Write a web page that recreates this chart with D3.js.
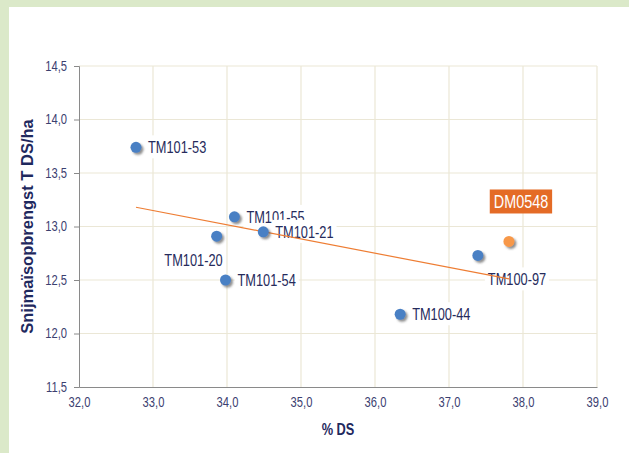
<!DOCTYPE html>
<html>
<head>
<meta charset="utf-8">
<script src="https://cdn.jsdelivr.net/npm/d3@7"></script>
<style>
  body { margin: 0; background: #fff; }
  svg { display: block; font-family: "Liberation Sans", Arial, sans-serif; }
</style>
</head>
<body>
<div id="vis"></div>
<script>
// data
const names = ["TM101-53", "TM101-55", "TM101-21", "TM101-20", "TM101-54", "TM100-44", "TM100-97", "DM0548"];
const dsPct = [32.77, 34.10, 34.49, 33.86, 33.98, 36.34, 37.39, 37.81];
const yieldT = [13.74, 13.09, 12.95, 12.91, 12.50, 12.18, 12.73, 12.86];
const highlight = "DM0548";

// trendline end points
const trendX = [32.77, 37.81];
const trendY = [13.18, 12.51];

const xTicks = [32, 33, 34, 35, 36, 37, 38, 39];
const yTicks = [11.5, 12.0, 12.5, 13.0, 13.5, 14.0, 14.5];

const FRAME_WIDTH = 629;
const FRAME_HEIGHT = 453;
const MARGINS = {left: 79, right: 32, top: 66, bottom: 66};
const VIS_WIDTH = FRAME_WIDTH - MARGINS.left - MARGINS.right;
const VIS_HEIGHT = FRAME_HEIGHT - MARGINS.top - MARGINS.bottom;
const SQUEEZE = 0.8; // text in the picture is narrow

// label placement (px from the point)
const labelPos = {
  "TM101-53": {dx: 12, dy: 0, anchor: "start"},
  "TM101-55": {dx: 12, dy: 0, anchor: "start"},
  "TM101-21": {dx: 12, dy: 0, anchor: "start"},
  "TM101-20": {dx: 6, dy: 24, anchor: "end"},
  "TM101-54": {dx: 12, dy: 0, anchor: "start"},
  "TM100-44": {dx: 12, dy: 0, anchor: "start"},
  "TM100-97": {dx: 10, dy: 24, anchor: "start"},
  "DM0548": {dx: 12, dy: -40, anchor: "middle"}
};

const data = names.map((n, i) => ({name: n, x: dsPct[i], y: yieldT[i]}));

const FRAME = d3.select("#vis")
  .append("svg")
    .attr("width", FRAME_WIDTH)
    .attr("height", FRAME_HEIGHT);

// shadow for the markers
const defs = FRAME.append("defs");
defs.append("filter")
    .attr("id", "shadow")
    .attr("x", "-50%").attr("y", "-50%")
    .attr("width", "200%").attr("height", "200%")
  .append("feDropShadow")
    .attr("dx", 2).attr("dy", 2)
    .attr("stdDeviation", 1)
    .attr("flood-color", "#444")
    .attr("flood-opacity", 0.6);

// green frame on top and left
FRAME.append("rect")
  .attr("x", 0).attr("y", 0)
  .attr("width", FRAME_WIDTH).attr("height", 7)
  .attr("fill", "#dbe9c9");
FRAME.append("rect")
  .attr("x", 0).attr("y", 0)
  .attr("width", 9).attr("height", FRAME_HEIGHT)
  .attr("fill", "#dbe9c9");

const X_SCALE = d3.scaleLinear()
  .domain([32, 39])
  .range([MARGINS.left, MARGINS.left + VIS_WIDTH]);

const Y_SCALE = d3.scaleLinear()
  .domain([11.5, 14.5])
  .range([MARGINS.top + VIS_HEIGHT, MARGINS.top]);

const fmt = v => d3.format(".1f")(v).replace(".", ",");

// gridlines
FRAME.append("g")
  .selectAll("line")
  .data(xTicks.slice(1))
  .enter()
  .append("line")
    .attr("x1", d => X_SCALE(d)).attr("x2", d => X_SCALE(d))
    .attr("y1", MARGINS.top).attr("y2", MARGINS.top + VIS_HEIGHT)
    .attr("stroke", "#ebe7d6")
    .attr("stroke-width", 1.2);

FRAME.append("g")
  .selectAll("line")
  .data(yTicks.slice(1))
  .enter()
  .append("line")
    .attr("x1", MARGINS.left).attr("x2", MARGINS.left + VIS_WIDTH)
    .attr("y1", d => Y_SCALE(d)).attr("y2", d => Y_SCALE(d))
    .attr("stroke", "#ebe7d6")
    .attr("stroke-width", 1.2);

// axes
const xAxis = FRAME.append("g")
  .attr("transform", "translate(0," + (MARGINS.top + VIS_HEIGHT) + ")")
  .call(d3.axisBottom(X_SCALE).tickValues(xTicks).tickFormat(fmt).tickSize(0).tickPadding(10));

const yAxis = FRAME.append("g")
  .attr("transform", "translate(" + MARGINS.left + ",0)")
  .call(d3.axisLeft(Y_SCALE).tickValues(yTicks).tickFormat(fmt).tickSize(5).tickPadding(10));

[xAxis, yAxis].forEach(ax => {
  ax.select(".domain").attr("stroke", "#8a8a8a");
  ax.selectAll(".tick line").attr("stroke", "#8a8a8a");
  ax.selectAll("text")
    .attr("font-size", "14px")
    .attr("font-family", "'Liberation Sans', Arial, sans-serif")
    .attr("fill", "#3b4070")
    .attr("transform", "scale(" + SQUEEZE + ",1)");
});

// labels with white boxes (drawn one after the other so later boxes cover earlier text)
const labelLayer = FRAME.append("g");
data.filter(d => d.name !== highlight).forEach(d => {
  const p = labelPos[d.name];
  const g = labelLayer.append("g")
    .attr("transform", "translate(" + (X_SCALE(d.x) + p.dx) + "," + (Y_SCALE(d.y) + p.dy) + ")");
  const box = g.append("rect").attr("fill", "#fff");
  const t = g.append("text")
    .attr("transform", "scale(" + SQUEEZE + ",1)")
    .attr("text-anchor", p.anchor)
    .attr("dy", "0.36em")
    .attr("font-size", "16px")
    .attr("fill", "#262b5c")
    .text(d.name);
  const bb = t.node().getBBox();
  box.attr("x", bb.x * SQUEEZE - 3)
    .attr("y", -12)
    .attr("width", bb.width * SQUEEZE + 6)
    .attr("height", 23);
});

// trendline
FRAME.append("line")
  .attr("x1", X_SCALE(trendX[0])).attr("y1", Y_SCALE(trendY[0]))
  .attr("x2", X_SCALE(trendX[1])).attr("y2", Y_SCALE(trendY[1]))
  .attr("stroke", "#ee7d33")
  .attr("stroke-width", 1.2);

// points
FRAME.append("g")
  .selectAll("circle")
  .data(data)
  .enter()
  .append("circle")
    .attr("cx", d => X_SCALE(d.x))
    .attr("cy", d => Y_SCALE(d.y))
    .attr("r", 5.5)
    .attr("fill", d => d.name === highlight ? "#f7984a" : "#4a80c4")
    .attr("filter", "url(#shadow)");

// highlighted label in orange box
data.filter(d => d.name === highlight).forEach(d => {
  const p = labelPos[d.name];
  const g = FRAME.append("g")
    .attr("transform", "translate(" + (X_SCALE(d.x) + p.dx) + "," + (Y_SCALE(d.y) + p.dy) + ")");
  const box = g.append("rect").attr("fill", "#e46b26");
  const t = g.append("text")
    .attr("transform", "scale(" + SQUEEZE + ",1)")
    .attr("text-anchor", "middle")
    .attr("dy", "0.36em")
    .attr("font-size", "18px")
    .attr("fill", "#fff")
    .text(d.name);
  const bb = t.node().getBBox();
  box.attr("x", bb.x * SQUEEZE - 4)
    .attr("y", -12)
    .attr("width", bb.width * SQUEEZE + 8)
    .attr("height", 24);
});

// axis titles
FRAME.append("text")
  .attr("transform", "translate(" + (MARGINS.left + VIS_WIDTH / 2) + "," + (MARGINS.top + VIS_HEIGHT + 42) + ") scale(" + SQUEEZE + ",1)")
  .attr("text-anchor", "middle")
  .attr("dy", "0.36em")
  .attr("font-size", "16px")
  .attr("font-weight", "bold")
  .attr("fill", "#1f295e")
  .text("% DS");

FRAME.append("text")
  .attr("transform", "translate(27," + (MARGINS.top + VIS_HEIGHT / 2) + ") rotate(-90)")
  .attr("text-anchor", "middle")
  .attr("dy", "0.36em")
  .attr("font-size", "16.5px")
  .attr("font-weight", "bold")
  .attr("fill", "#1f295e")
  .text("Snijmaïsopbrengst T DS/ha");
</script>
</body>
</html>
